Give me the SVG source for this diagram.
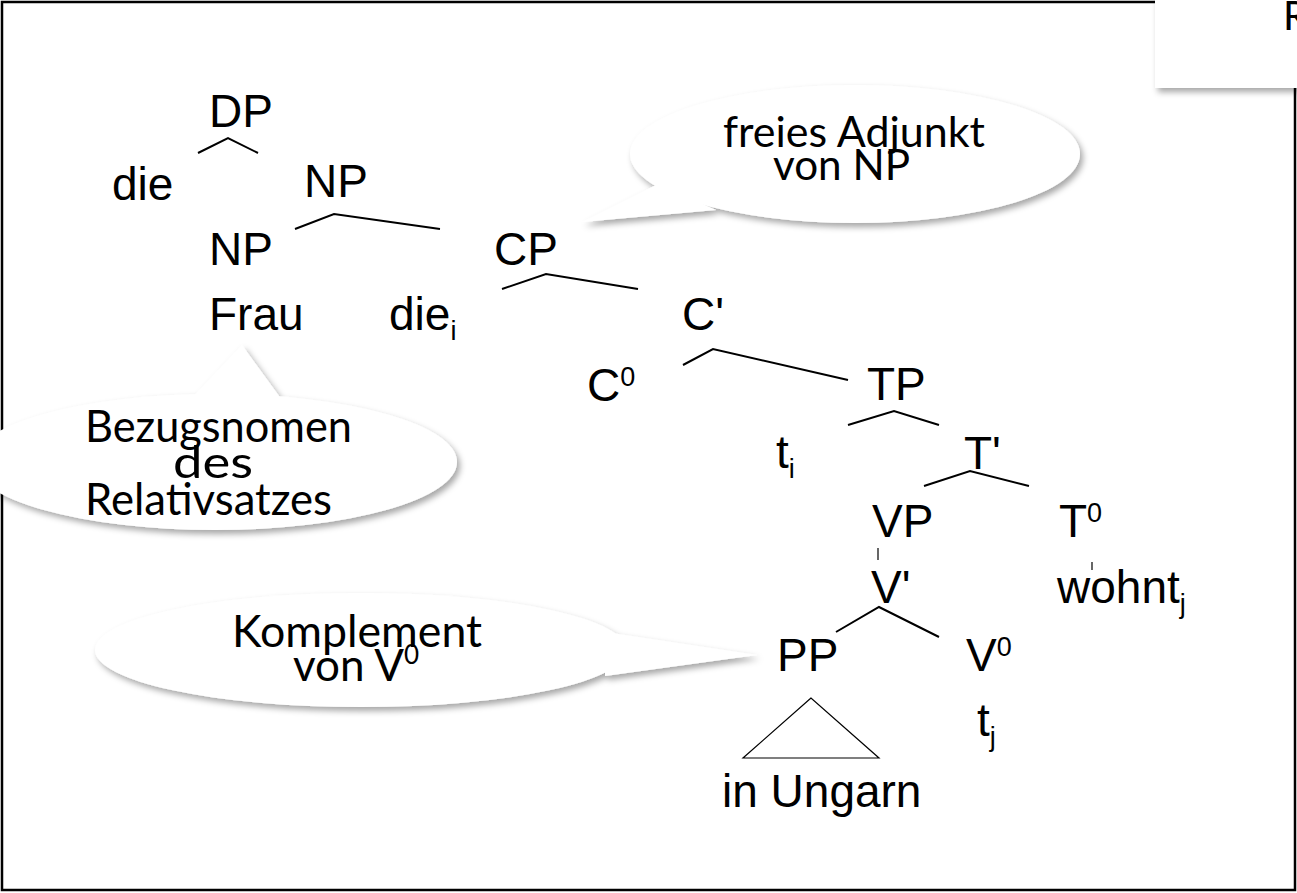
<svg xmlns="http://www.w3.org/2000/svg" width="1297" height="893" viewBox="0 0 1297 893">
<defs>
<filter id="sh" x="-10%" y="-20%" width="125%" height="150%">
<feDropShadow dx="3" dy="4" stdDeviation="3" flood-color="#000" flood-opacity="0.35"/>
</filter>
<style>
.n{font-family:"Liberation Sans",Arial,sans-serif;font-size:46px;fill:#000}
.sup{font-size:27px}
.c{font-family:Lato,"Open Sans",sans-serif;fill:#000}
.e{stroke:#000;stroke-width:2;fill:none}
.t{stroke:#000;stroke-width:1.2;fill:none}
.b{fill:#fff}
</style>
</defs>
<rect width="1297" height="893" fill="#fff"/>
<rect id="frame" x="2" y="2" width="1293" height="888" fill="none" stroke="#000" stroke-width="2.5"/>
<g id="corner-box">
<rect x="1155" y="-10" width="150" height="98" class="b" filter="url(#sh)"/>
<text x="1283" y="30" class="c" font-size="40">R</text>
</g>

<g id="connectors">
<polyline class="e" points="198,153 228,138 258,153"/>
<polyline class="e" points="295,229 334,214 440,229"/>
<polyline class="e" points="502,289 546,274 638,289"/>
<polyline class="e" points="683,365 713,349 848,380"/>
<polyline class="e" points="848,425 894,411 939,425"/>
<polyline class="e" points="924,486 970,471 1029,486"/>
<line class="t" x1="878" y1="548" x2="878" y2="560"/>
<line class="t" x1="1092" y1="562" x2="1092" y2="570"/>
<polyline class="e" points="836,632 879,607 939,637"/>
<polygon class="t" points="811,698 743,758 879,758"/>
</g>

<g id="n-DP"><text class="n" x="209" y="127">DP</text></g>
<g id="n-die"><text class="n" x="112" y="200">die</text></g>
<g id="n-NP1"><text class="n" x="304" y="197">NP</text></g>
<g id="n-NP2"><text class="n" x="209" y="265">NP</text></g>
<g id="n-CP"><text class="n" x="494" y="265">CP</text></g>
<g id="n-Frau"><text class="n" x="209" y="330">Frau</text></g>
<g id="n-die-i"><text class="n" x="389" y="330">die<tspan class="sup" dy="10">i</tspan></text></g>
<g id="n-C1"><text class="n" x="682" y="330">C'</text></g>
<g id="n-C0"><text class="n" x="587" y="401">C<tspan class="sup" dy="-15">0</tspan></text></g>
<g id="n-TP"><text class="n" x="867" y="400">TP</text></g>
<g id="n-ti"><text class="n" x="776" y="468">t<tspan class="sup" dy="10">i</tspan></text></g>
<g id="n-T1"><text class="n" x="964" y="469">T'</text></g>
<g id="n-VP"><text class="n" x="872" y="537">VP</text></g>
<g id="n-T0"><text class="n" x="1059" y="537">T<tspan class="sup" dy="-15">0</tspan></text></g>
<g id="n-V1"><text class="n" x="871" y="603">V'</text></g>
<g id="n-wohnt"><text class="n" x="1057" y="603">wohnt<tspan class="sup" dy="10">j</tspan></text></g>
<g id="n-PP"><text class="n" x="777" y="671">PP</text></g>
<g id="n-V0"><text class="n" x="966" y="671">V<tspan class="sup" dy="-15">0</tspan></text></g>
<g id="n-tj"><text class="n" x="977" y="736">t<tspan class="sup" dy="10">j</tspan></text></g>
<g id="n-inUngarn"><text class="n" x="722" y="807">in Ungarn</text></g>

<g id="callout-adjunkt">
<g filter="url(#sh)" class="b">
<ellipse cx="855" cy="154" rx="225" ry="69"/>
<polygon points="582,222 658,184 716,210"/>
</g>
<text class="c" x="723" y="147" font-size="42" textLength="262" lengthAdjust="spacingAndGlyphs">freies Adjunkt</text>
<text class="c" x="773" y="180" font-size="42" textLength="137" lengthAdjust="spacingAndGlyphs">von NP</text>
</g>

<g id="callout-bezug">
<g filter="url(#sh)" class="b">
<ellipse cx="215" cy="462" rx="242" ry="68"/>
<polygon points="242,345 190,400 282,400"/>
</g>
<text class="c" x="85" y="442" font-size="44" textLength="267" lengthAdjust="spacingAndGlyphs">Bezugsnomen</text>
<text class="c" x="173" y="478" font-size="44" textLength="80" lengthAdjust="spacingAndGlyphs">des</text>
<text class="c" x="85" y="515" font-size="44" textLength="247" lengthAdjust="spacingAndGlyphs">Relativsatzes</text>
</g>

<g id="callout-komplement">
<g filter="url(#sh)" class="b">
<ellipse cx="361" cy="650" rx="266" ry="57"/>
<polygon points="757,655 605,632 605,676"/>
</g>
<text class="c" x="232" y="647" font-size="44" textLength="250" lengthAdjust="spacingAndGlyphs">Komplement</text>
<text class="c" x="293" y="681" font-size="44">von V<tspan font-size="26" dy="-17">0</tspan></text>
</g>
</svg>
